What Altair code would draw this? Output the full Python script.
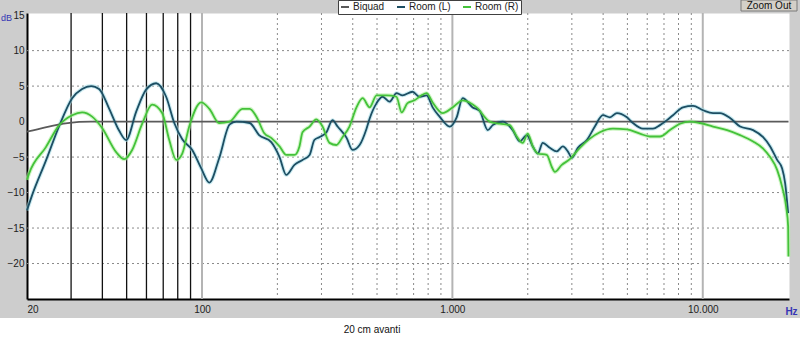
import altair as alt
import pandas as pd

FONT = "Liberation Sans"

series_names = ["Biquad", "Room (L)", "Room (R)"]
series_colors = ["#5a5a5a", "#1d4e63", "#44c23a"]
glow_colors = {"Room (L)": "#a6dde8", "Room (R)": "#b2f0a4"}

biquad_hz = [20, 22, 25.2, 28, 32.3, 36, 22000]
biquad_db = [-1.4, -1.1, -0.6, -0.3, -0.05, 0, 0]

room_l_hz = [20, 20.9, 23.8, 26.9, 30.3, 33.2, 36.1, 38.8, 42.6, 46.7, 49.8, 54.6, 59.8,
             65.6, 71.9, 77.5, 83.4, 91.4, 99.3, 107, 117, 129, 137, 155, 169, 189, 204,
             217, 234, 252, 269, 281, 294, 314, 332, 348, 378, 399, 426, 454, 467, 498,
             526, 561, 598, 632, 693, 740, 789, 834, 889, 975, 1040, 1099, 1205, 1285,
             1384, 1449, 1589, 1742, 1858, 1982, 2094, 2193, 2296, 2449, 2612, 2761, 2891,
             3000, 3170, 3444, 3707, 3991, 4257, 4540, 4978, 5261, 5768, 6325, 6746, 7196,
             7604, 8337, 9141, 10023, 10990, 11722, 12853, 14093, 15887, 17420, 18581,
             19817, 20750, 21332, 21930]
room_l_db = [-12.5, -10.5, -5.5, -0.6, 3.3, 4.6, 5.0, 4.6, 1.8, -1.3, -2.6, 1.4, 4.5,
             5.4, 3.5, -0.2, -2.5, -4.0, -6.6, -8.6, -5.2, -0.4, 0.0, -0.2, -1.9, -2.9, -5.0,
             -7.5, -6.1, -5.4, -4.7, -2.6, -2.2, -1.5, 0.2, -0.7, -2.3, -4.0, -3.3, -1.0, 0.4, 2.6,
             3.5, 2.8, 4.0, 3.7, 4.2, 3.5, 3.7, 2.0, 0.7, -0.7, 0.6, 3.3, 2.0, 1.5,
             -1.2, -0.5, 0.0, -1.2, -2.8, -1.9, -3.5, -4.5, -3.0, -3.7, -4.2, -3.5, -4.2,
             -5.1, -3.7, -2.6, -0.7, 0.9, 0.6, 1.2, 0.6, -0.2, -1.0, -1.0, -0.5, 0.2,
             0.9, 2.0, 2.2, 1.6, 1.2, 1.2, 0.5, -0.7, -1.2, -2.2, -3.5,
             -5.4, -6.6, -8.7, -12.9]

room_r_hz = [20, 20.4, 23.8, 26.9, 30.3, 33.2, 36.4, 39.9, 45.4, 48.9, 52.6, 57.7, 63.2,
             69.3, 74.0, 78.9, 83.4, 88.9, 99.3, 107, 117, 129, 145, 155, 166, 177, 189,
             204, 217, 234, 245, 252, 269, 286, 303, 323, 344, 364, 388, 414, 438, 467,
             498, 546, 598, 627, 662, 706, 753, 789, 834, 914, 1002, 1099, 1250, 1409,
             1545, 1694, 1807, 1910, 2000, 2094, 2193, 2382, 2495, 2565, 2735, 2944, 3228,
             3540, 3882, 4375, 4978, 5610, 6153, 6746, 7396, 8110, 8892, 9750, 10990,
             12503, 14093, 15887, 17420, 18581, 19817, 20750, 21530, 21930, 21990]
room_r_db = [-8.2, -7.3, -3.6, -0.5, 0.9, 1.3, 0.7, -0.9, -4.3, -5.3, -4.0, -0.3, 2.4,
             1.2, -2.6, -5.4, -4.5, -0.7, 2.7, 1.8, -0.2, 0.0, 1.8, 1.8, 0.5, -1.6, -2.3,
             -3.5, -4.7, -4.7, -3.5, -1.5, -0.7, 0.3, -0.7, -3.0, -3.3, -2.2, -0.7, 2.0, 3.3, 2.0,
             3.7, 3.7, 3.5, 1.3, 2.6, 3.0, 3.7, 4.0, 2.7, 1.2, 2.0, 3.0, 2.0, 0.0,
             -0.3, -0.5, -2.1, -3.0, -1.7, -3.5, -4.5, -4.7, -6.4, -7.1, -6.1, -5.3, -3.7,
             -2.4, -1.5, -1.0, -1.1, -1.7, -2.1, -2.1, -1.2, -0.3, 0.0, -0.2, -0.7,
             -1.2, -1.9, -2.8, -3.8, -5.0, -6.8, -9.2, -12.0, -14.8, -19.0]

y_ticks = [15, 10, 5, 0, -5, -10, -15, -20]
x_ticks = [20, 100, 1000, 10000]
grid_db = [10, 5, -5, -10, -15, -20]
grid_bass_hz = [30, 40, 50, 60, 70, 80, 90]
grid_decade_hz = [100, 1000, 10000]
grid_minor_hz = [200, 300, 400, 500, 600, 700, 800, 900,
                 2000, 3000, 4000, 5000, 6000, 7000, 8000, 9000]

rows = []
for name, hz, db in [("Biquad", biquad_hz, biquad_db),
                     ("Room (L)", room_l_hz, room_l_db),
                     ("Room (R)", room_r_hz, room_r_db)]:
    for i, (h, d) in enumerate(zip(hz, db)):
        rows.append({"series": name, "hz": h, "db": d, "i": i})
df = pd.DataFrame(rows)

x_scale = alt.Scale(type="log", domain=[20, 22100], nice=False)
y_scale = alt.Scale(domain=[-25, 15.3], nice=False, zero=False)

x_axis = alt.Axis(values=x_ticks, grid=False, ticks=False, domainColor="black", domainWidth=2,
                  labelExpr="datum.value >= 1000 ? replace(format(datum.value, ',d'), ',', '.') : format(datum.value, 'd')",
                  labelFont=FONT, labelFontSize=10, labelColor="#222", labelPadding=5,
                  labelFlush=True, labelFlushOffset=0,
                  title="Hz", titleX=764, titleY=12, titleBaseline="middle", titleAlign="center",
                  titleFont=FONT, titleFontSize=10, titleFontWeight="bold", titleColor="#3535b5")
y_axis = alt.Axis(values=y_ticks, grid=False, ticks=False, domainColor="black", domainWidth=2,
                  labelFont=FONT, labelFontSize=10, labelColor="#222", labelPadding=3,
                  title="dB", titleX=-21, titleY=4, titleAngle=0, titleBaseline="middle",
                  titleAlign="center", titleFont=FONT, titleFontSize=9, titleFontWeight="normal",
                  titleColor="#3535b5")

X = alt.X("hz:Q", scale=x_scale, axis=x_axis)
Y = alt.Y("db:Q", scale=y_scale, axis=y_axis)

hgrid = alt.Chart(pd.DataFrame({"db": grid_db})).mark_rule(
    color="#8a8a8a", strokeWidth=1, strokeDash=[2, 3]).encode(y=Y)
vminor = alt.Chart(pd.DataFrame({"hz": grid_minor_hz})).mark_rule(
    color="#8a8a8a", strokeWidth=1, strokeDash=[2, 3]).encode(x=X)
vdecade = alt.Chart(pd.DataFrame({"hz": grid_decade_hz})).mark_rule(
    color="#b4b4b4", strokeWidth=2).encode(x=X)
vbass = alt.Chart(pd.DataFrame({"hz": grid_bass_hz})).mark_rule(
    color="#111111", strokeWidth=1.3).encode(x=X)

glows = []
for name, col in glow_colors.items():
    glows.append(alt.Chart(df).transform_filter(alt.datum.series == name).mark_line(
        strokeWidth=4, opacity=0.6, interpolate="monotone", color=col
    ).encode(x=X, y=Y, order="i:Q"))

lines = alt.Chart(df).mark_line(strokeWidth=1.8, interpolate="monotone").encode(
    x=X, y=Y, order="i:Q",
    color=alt.Color("series:N",
                    scale=alt.Scale(domain=series_names, range=series_colors),
                    legend=alt.Legend(orient="none", legendX=311, legendY=-13,
                                      direction="horizontal", title=None,
                                      fillColor="white", strokeColor="#404040",
                                      padding=2, symbolType="stroke", symbolSize=64,
                                      symbolStrokeWidth=2, labelFont=FONT,
                                      labelFontSize=10, labelColor="#222",
                                      columnPadding=8, labelOffset=3)))

one = pd.DataFrame({"a": [0]})
bottom_band = alt.Chart(one).mark_rect(color="white").encode(
    x=alt.value(-27), x2=alt.value(773), y=alt.value(305), y2=alt.value(330))
caption = alt.Chart(one).mark_text(text="20 cm avanti", font=FONT, fontSize=10,
                                   color="#111", align="center", baseline="middle").encode(
    x=alt.value(345), y=alt.value(317))
button = alt.Chart(one).mark_rect(fill="#d4d0c8", stroke="#7a7a7a", strokeWidth=1).encode(
    x=alt.value(714), x2=alt.value(770), y=alt.value(-13), y2=alt.value(-2))
button_text = alt.Chart(one).mark_text(text="Zoom Out", font=FONT, fontSize=10,
                                       color="#111", align="center", baseline="middle").encode(
    x=alt.value(742), y=alt.value(-7))

chart = alt.layer(
    bottom_band, hgrid, vminor, vdecade, vbass, *glows, lines, caption, button, button_text
).properties(
    width=762, height=286,
    padding={"left": 27, "top": 13, "right": 11, "bottom": 43},
    autosize=alt.AutoSizeParams(type="none"),
    background="#cdcdcd",
).configure_view(fill="white", stroke="transparent")

chart.save("out.html", embed_options={"renderer": "svg", "actions": False})
